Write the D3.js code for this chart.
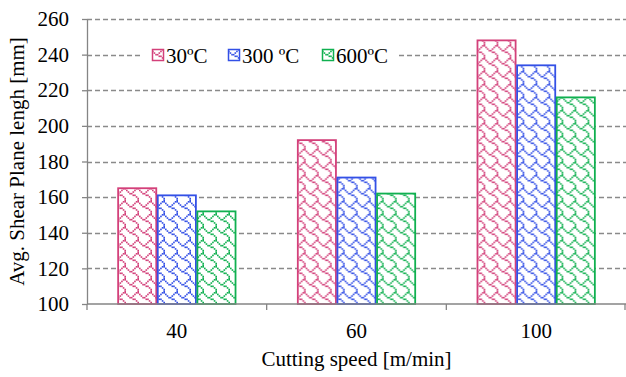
<!DOCTYPE html>
<html>
<head>
<meta charset="utf-8">
<script src="https://cdn.jsdelivr.net/npm/d3@7"></script>
<style>
  html, body { margin: 0; padding: 0; background: #fff; }
  svg { display: block; }
  svg text { font-family: "Liberation Serif", "Times New Roman", serif; fill: #000; }
</style>
</head>
<body>
<svg id="chart" width="626" height="377"></svg>
<script>
// Cutting speeds (categories) and measured shear plane length per temperature
const speeds = ["40", "60", "100"];
const seriesNames = ["30ºC", "300 ºC", "600ºC"];
const seriesColors = ["#D3407A", "#3350E6", "#10B050"];
const values30 = [165, 192, 248];
const values300 = [161, 171, 234];
const values600 = [152, 162, 216];
const yTicks = [100, 120, 140, 160, 180, 200, 220, 240, 260];

const seriesValues = [values30, values300, values600];
const FONT = "'Liberation Serif', 'Times New Roman', serif";
const FS = "21px";

const svg = d3.select("#chart");
const margin = { left: 87, right: 0, top: 19, bottom: 73 };
const W = 626, H = 377;
const plotW = W - margin.left - margin.right;
const plotH = H - margin.top - margin.bottom;

// Shingle hatch: 8x8 bitmap, each bit drawn as a small block
const shingle = [0x03, 0x84, 0x48, 0x30, 0x0C, 0x02, 0x01, 0x01];
const cell = 1.625, tile = cell * 8;
const defs = svg.append("defs");
seriesColors.forEach((c, i) => {
  const p = defs.append("pattern")
    .attr("id", "hatch" + i)
    .attr("patternUnits", "userSpaceOnUse")
    .attr("width", tile).attr("height", tile);
  p.append("rect").attr("width", tile).attr("height", tile).attr("fill", "#fff");
  shingle.forEach((row, r) => {
    for (let col = 0; col < 8; col++) {
      if (row & (0x80 >> col)) {
        p.append("rect")
          .attr("x", col * cell).attr("y", r * cell)
          .attr("width", cell).attr("height", cell)
          .attr("fill", c);
      }
    }
  });
});

const x = d3.scaleBand().domain(speeds).range([0, plotW]).paddingInner(0).paddingOuter(0);
const x1 = d3.scaleBand().domain(d3.range(3)).range([0, x.bandwidth()]).paddingInner(0).paddingOuter(0.767);
const y = d3.scaleLinear().domain([100, 260]).range([plotH, 0]);

const g = svg.append("g").attr("transform", `translate(${margin.left},${margin.top})`);

// Dashed horizontal gridlines
g.append("g")
  .selectAll("line")
  .data(yTicks.filter(t => t !== 100))
  .join("line")
  .attr("x1", 0).attr("x2", plotW)
  .attr("y1", d => Math.round(y(d)) + 0.5).attr("y2", d => Math.round(y(d)) + 0.5)
  .attr("stroke", "#8a8a8a")
  .attr("stroke-width", 1.3)
  .attr("stroke-dasharray", "5,3");

// Bars
const groups = g.append("g").selectAll("g")
  .data(speeds)
  .join("g")
  .attr("transform", d => `translate(${x(d)},0)`);

groups.selectAll("rect")
  .data((d, i) => seriesValues.map((vals, s) => ({ s, v: vals[i] })))
  .join("rect")
  .attr("x", d => x1(d.s) + 0.75)
  .attr("y", d => y(d.v))
  .attr("width", x1.bandwidth() - 1.5)
  .attr("height", d => plotH - y(d.v))
  .attr("fill", d => `url(#hatch${d.s})`)
  .attr("stroke", d => seriesColors[d.s])
  .attr("stroke-width", 1.8);

// Y axis
const yAxis = g.append("g")
  .call(d3.axisLeft(y).tickValues(yTicks).tickSize(5).tickSizeOuter(0).tickPadding(13));
yAxis.attr("font-family", null).attr("font-size", null);
yAxis.select(".domain").attr("stroke", "#858585").attr("stroke-width", 1.3);
yAxis.selectAll(".tick line").attr("stroke", "#858585").attr("stroke-width", 1.3);
yAxis.selectAll(".tick text")
  .attr("font-family", FONT)
  .style("font-size", FS).attr("fill", "#000");

// X axis with ticks on category boundaries
const xAxisG = g.append("g").attr("transform", `translate(0,${plotH})`);
xAxisG.append("line")
  .attr("x1", 0).attr("x2", plotW).attr("y1", 0).attr("y2", 0)
  .attr("stroke", "#858585").attr("stroke-width", 1.3);
const boundaries = speeds.map(s => x(s)).concat([x(speeds[speeds.length - 1]) + x.bandwidth() - 1]);
xAxisG.selectAll("line.tk")
  .data(boundaries)
  .join("line")
  .attr("class", "tk")
  .attr("x1", d => d).attr("x2", d => d)
  .attr("y1", 0).attr("y2", 6)
  .attr("stroke", "#858585").attr("stroke-width", 1.3);
xAxisG.selectAll("text")
  .data(speeds)
  .join("text")
  .attr("x", d => x(d) + x.bandwidth() / 2)
  .attr("y", 34)
  .attr("text-anchor", "middle")
  .attr("font-family", FONT)
  .style("font-size", FS)
  .text(d => d);

// Axis titles
svg.append("text")
  .attr("x", margin.left + plotW / 2)
  .attr("y", 366)
  .attr("text-anchor", "middle")
  .attr("font-family", FONT)
  .style("font-size", FS)
  .text("Cutting speed [m/min]");

svg.append("text")
  .attr("transform", `translate(24,${margin.top + plotH / 2}) rotate(-90)`)
  .attr("text-anchor", "middle")
  .attr("font-family", FONT)
  .style("font-size", FS)
  .text("Avg. Shear Plane lengh [mm]");

// Legend on a white box over the gridlines
const legend = svg.append("g").attr("transform", "translate(140,42)");
legend.append("rect").attr("x", 0).attr("y", 0).attr("width", 258).attr("height", 26).attr("fill", "#fff");
const legendX = [12, 88, 182];
seriesNames.forEach((name, i) => {
  const it = legend.append("g").attr("transform", `translate(${legendX[i]},7)`);
  it.append("rect")
    .attr("x", 0.5).attr("y", 0.5).attr("width", 11).attr("height", 11)
    .attr("fill", `url(#hatch${i})`)
    .attr("stroke", seriesColors[i]).attr("stroke-width", 1.5);
  it.append("text").attr("x", 14).attr("y", 14)
    .attr("font-family", FONT)
    .style("font-size", FS).text(name);
});
</script>
</body>
</html>
